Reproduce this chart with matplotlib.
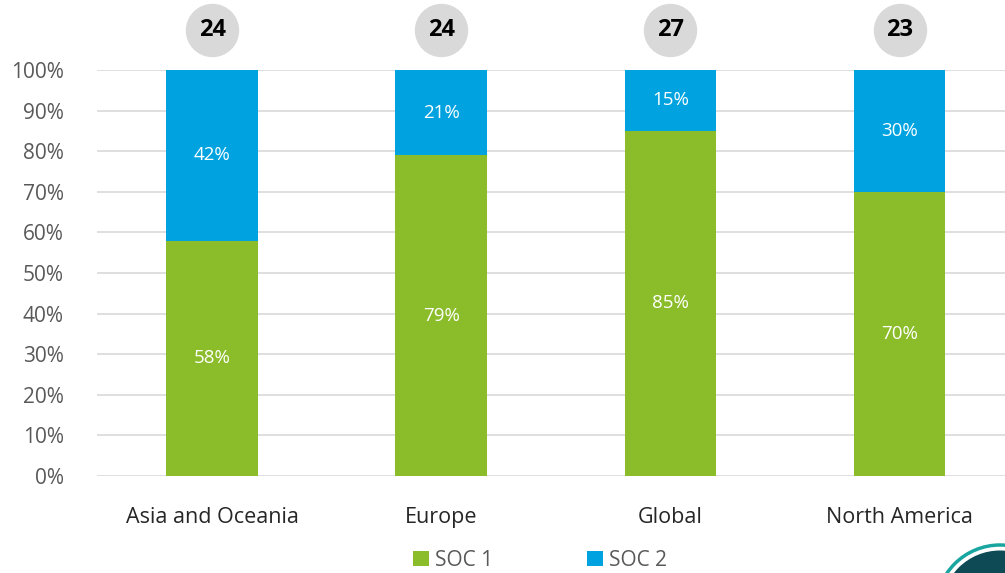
import numpy as np
import matplotlib.pyplot as plt
from matplotlib.patches import Circle

plt.rcParams['font.family'] = ['Open Sans', 'DejaVu Sans']

regions = ['Asia and Oceania', 'Europe', 'Global', 'North America']
soc1 = [58, 79, 85, 70]
soc2 = [42, 21, 15, 30]
counts = [24, 24, 27, 23]

green = '#8bbd2a'
blue = '#00a3e0'
grey_txt = '#595959'

fig = plt.figure(figsize=(10.05, 5.73), dpi=100)
ax = fig.add_axes([97 / 1005, 1 - 476 / 573, 1 - 97 / 1005, (476 - 70) / 573])

x = np.arange(len(regions))
w = 0.40
b1 = ax.bar(x, soc1, w, color=green, label='SOC 1', zorder=2)
b2 = ax.bar(x, soc2, w, bottom=soc1, color=blue, label='SOC 2', zorder=2)

# count bubbles above the bars
bubble_y = 109.9
ax.scatter(x, [bubble_y] * len(x), s=1400, color='#d9d9d9', clip_on=False, zorder=3)

for i in range(len(regions)):
    ax.text(x[i], soc1[i] / 2, f'{soc1[i]}%', ha='center', va='center',
            color='white', fontsize=13.5)
    ax.text(x[i], soc1[i] + soc2[i] / 2, f'{soc2[i]}%', ha='center', va='center',
            color='white', fontsize=13.5)
    ax.text(x[i], bubble_y, str(counts[i]), ha='center', va='center', fontsize=17,
            fontweight='bold', color='black', clip_on=False, zorder=4)

ax.set_ylim(0, 100)
ax.set_xlim(-0.502, 3.46)
ax.set_yticks(np.arange(0, 101, 10))
ax.set_yticklabels([f'{v}%' for v in range(0, 101, 10)])
ax.set_xticks(x)
ax.set_xticklabels(regions)
ax.tick_params(axis='both', length=0, labelsize=15, colors=grey_txt)
ax.tick_params(axis='x', pad=22, colors='#262626', labelsize=15.5)
ax.tick_params(axis='y', pad=24)
ax.grid(axis='y', color='#d9d9d9', linewidth=1.2, zorder=0)
for s in ax.spines.values():
    s.set_visible(False)

leg = fig.legend(handles=[b1, b2], loc='center', bbox_to_anchor=(540 / 1005, 1 - 560 / 573),
                 ncol=2, frameon=False, fontsize=15, handlelength=0.75, handleheight=0.75,
                 handletextpad=0.3, columnspacing=4.5)
for t in leg.get_texts():
    t.set_color(grey_txt)

# corner logo
tr = fig.dpi_scale_trans
fig.patches.append(Circle((10.0, -0.36), 0.64, transform=tr, fc='none', ec='#1aa6a0', lw=2.5))
fig.patches.append(Circle((10.0, -0.36), 0.585, transform=tr, fc='#0d4a55', ec='none'))

fig.savefig('out.png', dpi=100)
